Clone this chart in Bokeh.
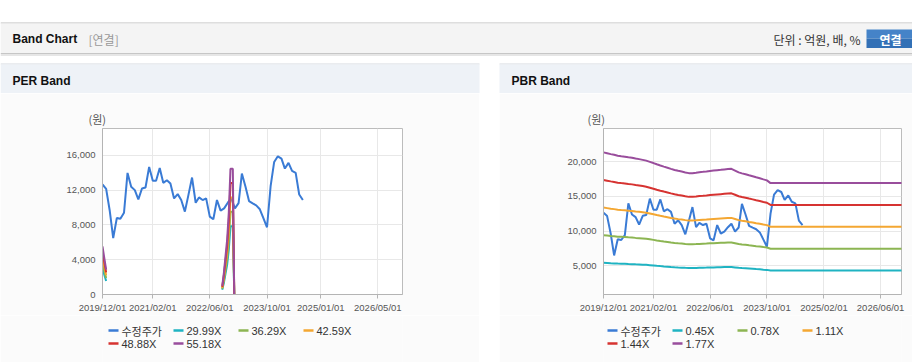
import math
import pandas as pd
from bokeh.plotting import figure
from bokeh.layouts import column, row
from bokeh.models import Range1d, FixedTicker, NumeralTickFormatter, Spacer
from bokeh.core.properties import value
from bokeh.embed import file_html
from bokeh.resources import INLINE

# ---------------- data ----------------
price_first_month = "2019-12-01"
price = [12650, 12150, 9600, 6480, 8800, 8700, 9400, 13980, 12380, 12000,
         10930, 12190, 12300, 14670, 13070, 13070, 14550, 12840, 13140, 12760,
         11050, 11540, 10860, 9525, 11430, 13450, 10550, 11160, 10860, 11050,
         8950, 8650, 10860, 9640, 9900, 10550, 11050, 9900, 10500, 13900,
         12380, 10740, 10480, 10250, 9800, 8760, 7730, 12500, 15240, 15890,
         15620, 14480, 15130, 14210, 13980, 11500, 10860]

per_eps_dates = ["2019-12-01", "2019-12-15", "2020-01-01", "2020-01-15",
                 "2022-09-15", "2022-09-29", "2022-10-13", "2022-10-27",
                 "2022-11-10", "2022-11-24", "2022-12-14", "2022-12-22",
                 "2022-12-28"]
per_eps = [100, 78, 52, float("nan"),
           18, 45, 80, 115, 172, 262, 262, 90, -40]
per_multiples = [29.99, 36.29, 42.59, 48.88, 55.18]
per_labels = ["29.99X", "36.29X", "42.59X", "48.88X", "55.18X"]

bps = [12050, 11980, 11910, 11850, 11780, 11740, 11700, 11650, 11610, 11550,
       11500, 11440, 11380, 11280, 11180, 11080, 10980, 10890, 10800, 10710,
       10620, 10550, 10490, 10420, 10360, 10360, 10400, 10440, 10470, 10500,
       10540, 10570, 10600, 10630, 10660, 10690, 10710, 10570, 10420, 10340,
       10270, 10190, 10110, 10020, 9940, 9850, 9770, 9550, 9550, 9550,
       9550, 9550, 9550, 9550, 9550, 9550, 9550]
bps_last_date = "2026-12-01"
bps_last = 9550
pbr_multiples = [0.45, 0.78, 1.11, 1.44, 1.77]
pbr_labels = ["0.45X", "0.78X", "1.11X", "1.44X", "1.77X"]

per_tick_labels = ["2019/12/01", "2021/02/01", "2022/06/01", "2023/10/01",
                   "2025/01/01", "2026/05/01"]
pbr_tick_labels = ["2019/12/01", "2021/02/01", "2022/06/01", "2023/10/01",
                   "2025/02/01", "2026/06/01"]
per_yticks = [0, 4000, 8000, 12000, 16000]
pbr_yticks = [5000, 10000, 15000, 20000]
x_start = "2019-12-01"
x_end = "2026-11-27"
per_yrange = (0, 19086)
pbr_yrange = (850, 24770)

price_label = "수정주가"
unit_label = "(원)"
band_colors = ["#1fb3c2", "#8cb552", "#f4a732", "#d63331", "#994d9c"]
price_color = "#3a7bd5"

FONT = "Liberation Sans"
KFONT = "Noto Sans CJK KR"
BODY = "#fbfbfb"

# ---------------- helpers ----------------
def ms(s):
    return int(pd.Timestamp(s).value // 10**6)

price_dates = pd.date_range(price_first_month, periods=len(price), freq="MS")
bps_dates = list(pd.date_range(price_first_month, periods=len(bps), freq="MS")) + [pd.Timestamp(bps_last_date)]
bps_all = bps + [bps_last]
eps_dates = pd.to_datetime(per_eps_dates)


def pix_fig(w, h, x0, y0, bg, bl=0, br=0):
    f = figure(width=w, height=h, x_range=Range1d(x0 + bl, x0 + w - br),
               y_range=Range1d(y0 + h, y0), output_backend="svg",
               toolbar_location=None, min_border=0, min_border_left=bl,
               min_border_right=br, min_border_top=0, min_border_bottom=0,
               x_axis_location=None, y_axis_location=None)
    f.grid.visible = False
    f.outline_line_color = None
    f.background_fill_color = bg
    f.border_fill_color = bg
    return f


# ---------------- top header (incl. panel headers) ----------------
top = pix_fig(912, 93, 0, 0, "#ffffff")
top.quad(left=[0], right=[912], top=[22], bottom=[23], color="#bdbdbd", line_color=None)
top.quad(left=[0], right=[912], top=[23], bottom=[52.5], color="#f4f4f4", line_color=None)
top.quad(left=[0], right=[912], top=[52.5], bottom=[53.5], color="#c6c6c6", line_color=None)
top.quad(left=[0], right=[912], top=[53.5], bottom=[55.5], color="#e6e6e6", line_color=None)
top.text(x=[12], y=[38.5], text=["Band Chart"], text_font=value(FONT),
         text_font_size="12px", text_font_style="bold", text_color="#111111",
         text_baseline="middle")
top.text(x=[88], y=[38.5], text=["[연결]"], text_font=value(KFONT),
         text_font_size="12px", text_color="#999999", text_baseline="middle")
top.text(x=[860], y=[38.5], text=["단위 : 억원, 배, %"], text_font=value(KFONT),
         text_font_size="12px", text_color="#333333", text_baseline="middle",
         text_align="right")
top.quad(left=[866], right=[914], top=[29], bottom=[38], color="#4583c8", line_color=None)
top.quad(left=[866], right=[914], top=[38], bottom=[47.5], color="#3270b6", line_color=None)
top.text(x=[890], y=[38.5], text=["연결"], text_font=value(KFONT),
         text_font_size="12px", text_font_style="bold", text_color="#ffffff",
         text_baseline="middle", text_align="center")
for (l, r, ttl) in [(0, 479, "PER Band"), (499, 912, "PBR Band")]:
    top.quad(left=[l], right=[r], top=[63], bottom=[64], color="#d6dadf", line_color=None)
    top.quad(left=[l], right=[r], top=[64], bottom=[93], color="#eef2f7", line_color=None)
    top.text(x=[l + 12], y=[80.5], text=[ttl], text_font=value(FONT),
             text_font_size="12px", text_font_style="bold", text_color="#111111",
             text_baseline="middle")


def foot(w):
    f = figure(width=w, height=1, output_backend="svg", toolbar_location=None,
               min_border=0, x_axis_location=None, y_axis_location=None)
    f.grid.visible = False
    f.outline_line_color = None
    f.background_fill_color = "#d8d8d8"
    f.border_fill_color = "#d8d8d8"
    return f


def chart(w, bl, br, yr, yticks, tick_labels, unit_offset):
    p = figure(width=w, height=222, x_axis_type="datetime",
               x_range=Range1d(pd.Timestamp(x_start), pd.Timestamp(x_end)),
               y_range=Range1d(*yr), output_backend="svg", toolbar_location=None,
               min_border_left=bl, min_border_right=br, min_border_top=35,
               min_border_bottom=20)
    p.background_fill_color = "#ffffff"
    p.border_fill_color = BODY
    p.outline_line_color = "#bcbcbc"
    ticks = [ms(t.replace("/", "-")) for t in tick_labels]
    p.xaxis.ticker = FixedTicker(ticks=ticks)
    p.xgrid.ticker = FixedTicker(ticks=ticks)
    p.xaxis.major_label_overrides = {t: lab for t, lab in zip(ticks, tick_labels)}
    p.yaxis.ticker = FixedTicker(ticks=yticks)
    p.ygrid.ticker = FixedTicker(ticks=yticks)
    p.yaxis.formatter = NumeralTickFormatter(format="0,0")
    for ax in (p.xaxis[0], p.yaxis[0]):
        ax.axis_line_color = "#b4b4b4"
        ax.minor_tick_line_color = None
        ax.major_label_text_font = FONT
        ax.major_label_text_font_size = "9.5px"
        ax.major_label_text_color = "#555555"
    p.xaxis.major_tick_in = 0
    p.xaxis.major_tick_out = 4
    p.xaxis.major_tick_line_color = "#b4b4b4"
    p.xaxis.major_label_standoff = 3
    p.yaxis.major_tick_in = 0
    p.yaxis.major_tick_out = 0
    p.yaxis.major_label_standoff = 7
    p.grid.grid_line_color = "#e8e8e8"
    p.title.text = unit_label
    p.title.align = "left"
    p.title.offset = unit_offset
    p.title.standoff = 3
    p.title.text_font = KFONT
    p.title.text_font_size = "11px"
    p.title.text_font_style = "normal"
    p.title.text_color = "#555555"
    return p


def legend_fig(w, bl, br, x_line, labels, colors):
    # legend drawn below chart: y 315..362 (page pixels)
    f = pix_fig(w, 47, 0 if bl == 102 else 499, 315, BODY, bl, br)
    ncol = 4
    xs0, xs1, xt, ys = [], [], [], []
    for i in range(len(labels)):
        c, r = i % ncol, i // ncol
        x = x_line + 65 * c
        y = 330 + 13 * r
        xs0.append(x); xs1.append(x + 10); xt.append(x + 13); ys.append(y)
    f.segment(x0=xs0, y0=ys, x1=xs1, y1=ys, line_color=colors, line_width=2.5)
    f.text(x=xt[:1], y=ys[:1], text=labels[:1], text_font=value(KFONT),
           text_font_size="11px", text_color="#333333", text_baseline="middle")
    f.text(x=xt[1:], y=ys[1:], text=labels[1:], text_font=value(FONT),
           text_font_size="11px", text_color="#333333", text_baseline="middle")
    return f


# ---------------- PER ----------------
per = chart(479, 102, 77, per_yrange, per_yticks, per_tick_labels, -14)
per.line(price_dates, price, line_color=price_color, line_width=2)
for m, c in zip(per_multiples, band_colors):
    vals = [e * m if not math.isnan(e) else float("nan") for e in per_eps]
    per.line(eps_dates, vals, line_color=c, line_width=2)
per_leg = legend_fig(479, 102, 77, 108, [price_label] + per_labels,
                     [price_color] + band_colors)

# ---------------- PBR ----------------
pbr = chart(413, 104, 11, pbr_yrange, pbr_yticks, pbr_tick_labels, -16)
pbr.line(price_dates, price, line_color=price_color, line_width=2)
for m, c in zip(pbr_multiples, band_colors):
    pbr.line(bps_dates, [b * m for b in bps_all], line_color=c, line_width=2)
pbr_leg = legend_fig(413, 104, 11, 607, [price_label] + pbr_labels,
                     [price_color] + band_colors)

layout = column(top,
                row(per, Spacer(width=20, height=222), pbr),
                row(per_leg, Spacer(width=20, height=47), pbr_leg),
                row(foot(479), Spacer(width=20, height=1), foot(413)))

open("out.html", "w").write(file_html(layout, INLINE))
